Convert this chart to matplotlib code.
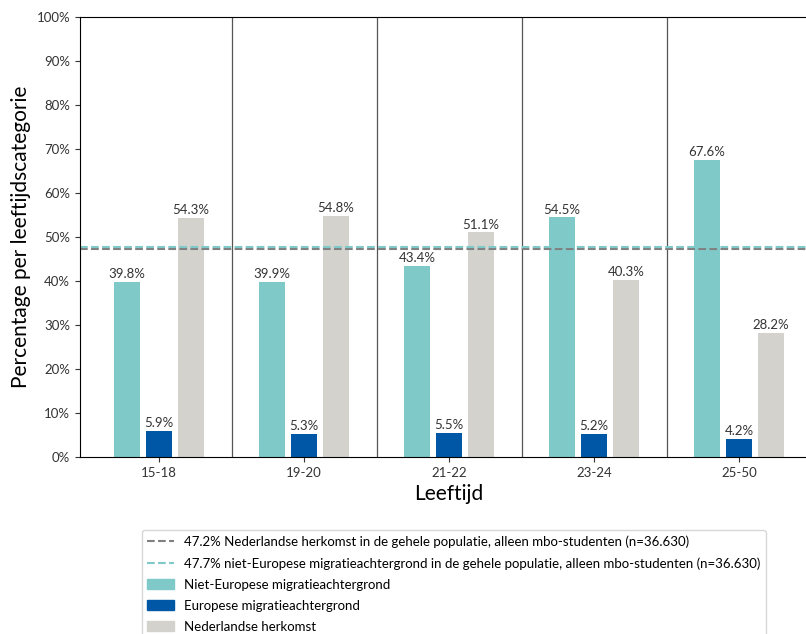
import numpy as np
import matplotlib.pyplot as plt
from matplotlib.patches import Patch
from matplotlib.lines import Line2D
from matplotlib.ticker import PercentFormatter

plt.rcParams['font.family'] = ['Lato', 'DejaVu Sans']

categories = ["15-18", "19-20", "21-22", "23-24", "25-50"]
niet_europees = [39.8, 39.9, 43.4, 54.5, 67.6]
europees = [5.9, 5.3, 5.5, 5.2, 4.2]
nederlands = [54.3, 54.8, 51.1, 40.3, 28.2]
ref_nl = 47.2
ref_niet_eu = 47.7

c_teal = "#7fc9c9"
c_blue = "#0057a5"
c_grey = "#d3d2cd"

fig = plt.figure(figsize=(8.06, 6.34), dpi=100)
ax = fig.add_axes([0.0993, 0.279, 0.9156, 0.694])

x = np.arange(len(categories))
w = 0.18
off = 0.22
series = [(niet_europees, c_teal, -off), (europees, c_blue, 0), (nederlands, c_grey, off)]
for vals, col, dx in series:
    bars = ax.bar(x + dx, vals, width=w, color=col)
    for b, v in zip(bars, vals):
        ax.text(b.get_x() + b.get_width() / 2, v + 0.4, f"{v}%", ha="center", va="bottom",
                fontsize=9.5, color="#333333")

# scheidingslijnen tussen de leeftijdsgroepen
for sep in x[:-1] + 0.5:
    ax.axvline(sep, color="#555555", lw=0.9)

ax.axhline(ref_nl, color="#808080", ls="--", lw=1.5)
ax.axhline(ref_niet_eu, color="#7fc9c9", ls="--", lw=1.5)

ax.set_xlim(-0.545, len(categories) - 1 + 0.545)
ax.set_ylim(0, 100)
ax.spines["right"].set_visible(False)
ax.set_yticks(np.arange(0, 101, 10))
ax.yaxis.set_major_formatter(PercentFormatter(decimals=0))
ax.set_xticks(x)
ax.set_xticklabels(categories)
ax.tick_params(labelsize=9.5, colors="#333333")
ax.set_xlabel("Leeftijd", fontsize=15)
ax.set_ylabel("Percentage per leeftijdscategorie", fontsize=15)

handles = [
    Line2D([], [], color="#808080", ls="--", lw=1.5),
    Line2D([], [], color="#7fc9c9", ls="--", lw=1.5),
    Patch(color=c_teal), Patch(color=c_blue), Patch(color=c_grey),
]
labels = [
    f"{ref_nl}% Nederlandse herkomst in de gehele populatie, alleen mbo-studenten (n=36.630)",
    f"{ref_niet_eu}% niet-Europese migratieachtergrond in de gehele populatie, alleen mbo-studenten (n=36.630)",
    "Niet-Europese migratieachtergrond",
    "Europese migratieachtergrond",
    "Nederlandse herkomst",
]
fig.legend(handles, labels, loc="upper center", bbox_to_anchor=(0.563, 0.174),
           fontsize=9.5, labelspacing=0.68, frameon=True, edgecolor="#cccccc")

fig.savefig("out.png", dpi=100)
